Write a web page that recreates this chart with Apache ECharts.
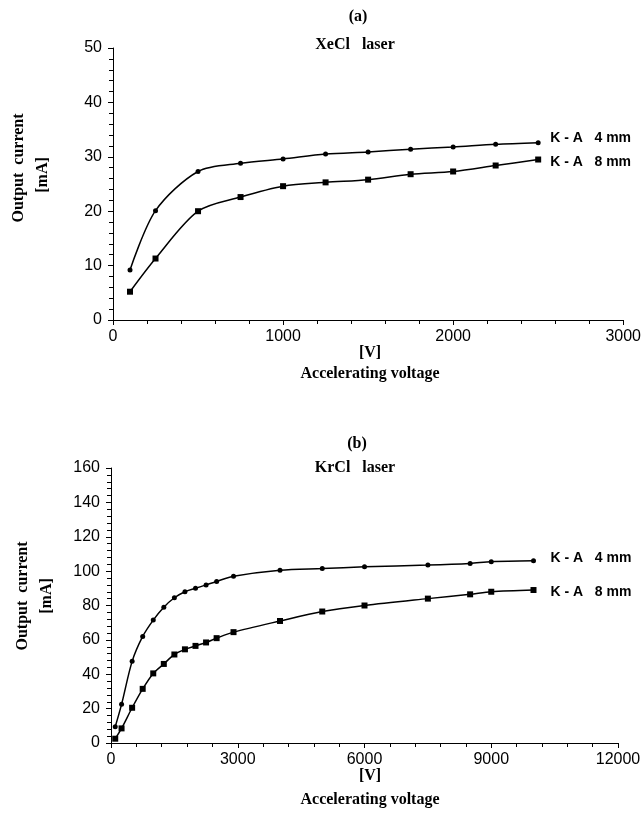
<!DOCTYPE html>
<html>
<head>
<meta charset="utf-8">
<script src="https://cdn.jsdelivr.net/npm/echarts@6/dist/echarts.min.js"></script>
<style>
html,body{margin:0;padding:0;background:#fff;}
#c{width:644px;height:819px;}
</style>
</head>
<body>
<div id="c"></div>
<script>
// ---- Data: (a) XeCl laser ----
var xeclVoltage = [100, 250, 500, 750, 1000, 1250, 1500, 1750, 2000, 2250, 2500];
var xecl4mm = [9.2, 20.1, 27.3, 28.8, 29.6, 30.5, 30.9, 31.4, 31.8, 32.3, 32.6];
var xecl8mm = [5.2, 11.3, 20.0, 22.6, 24.6, 25.3, 25.8, 26.8, 27.3, 28.4, 29.5];

// ---- Data: (b) KrCl laser ----
var krclVoltage = [100, 250, 500, 750, 1000, 1250, 1500, 1750, 2000, 2250, 2500, 2900, 4000, 5000, 6000, 7500, 8500, 9000, 10000];
var krcl4mm = [9.5, 22.5, 47.5, 62, 71.5, 79, 84.5, 88, 90, 92, 94, 97, 100.5, 101.5, 102.5, 103.5, 104.5, 105.5, 106];
var krcl8mm = [2.5, 8.5, 20.5, 31.5, 40.5, 46, 51.5, 54.5, 56.5, 58.5, 61, 64.5, 71, 76.5, 80, 84, 86.5, 88, 89];

// ---- Axis ticks ----
var topXTicks = {min: 0, max: 3000, interval: 1000};
var topYTicks = {min: 0, max: 50, interval: 10};
var botXTicks = {min: 0, max: 12000, interval: 3000};
var botYTicks = {min: 0, max: 160, interval: 20};

var seriesNames = ['K - A   4 mm', 'K - A   8 mm'];

function zip(xs, ys){ return xs.map(function(x,i){ return [x, ys[i]]; }); }

var sansFont = '"Liberation Sans", Arial, sans-serif';
var serifFont = '"Liberation Serif", "Times New Roman", serif';

function plain(v){ return String(v); }

function makeX(idx, t){
  return {
    type: 'value', gridIndex: idx, min: t.min, max: t.max, interval: t.interval,
    axisLine: {show: true, lineStyle: {color: '#000', width: 1}},
    axisTick: {show: true, length: 5, lineStyle: {color: '#000'}},
    minorTick: {show: true, splitNumber: 5, length: 4, lineStyle: {color: '#000'}},
    splitLine: {show: false},
    axisLabel: {color: '#000', fontFamily: sansFont, fontSize: 16, margin: 9, formatter: plain},
  };
}
function makeY(idx, t){
  return {
    type: 'value', gridIndex: idx, min: t.min, max: t.max, interval: t.interval,
    axisLine: {show: true, lineStyle: {color: '#000', width: 1}},
    axisTick: {show: true, length: 5, lineStyle: {color: '#000'}},
    minorTick: {show: true, splitNumber: 5, length: 4, lineStyle: {color: '#000'}},
    splitLine: {show: false},
    axisLabel: {color: '#000', fontFamily: sansFont, fontSize: 16, margin: 11, formatter: plain},
  };
}
function makeSeries(name, idx, data, symbol, size, dist, offY){
  return {
    name: name, type: 'line', xAxisIndex: idx, yAxisIndex: idx,
    data: data, smooth: 0.3, symbol: symbol, symbolSize: size,
    lineStyle: {color: '#000', width: 1.5},
    itemStyle: {color: '#000'},
    endLabel: {show: true, formatter: name, distance: dist, offset: [0, offY],
      color: '#000', fontFamily: sansFont, fontWeight: 'bold', fontSize: 14},
    animation: false, z: 3
  };
}

var chart = echarts.init(document.getElementById('c'), null, {renderer: 'canvas'});
chart.setOption({
  backgroundColor: '#fff',
  animation: false,
  grid: [
    {left: 113, top: 48, width: 513, height: 272},
    {left: 111, top: 468, width: 507, height: 275}
  ],
  xAxis: [makeX(0, topXTicks), makeX(1, botXTicks)],
  yAxis: [makeY(0, topYTicks), makeY(1, botYTicks)],
  series: [
    makeSeries(seriesNames[0], 0, zip(xeclVoltage, xecl4mm), 'circle', 5, 12, -5),
    makeSeries(seriesNames[1], 0, zip(xeclVoltage, xecl8mm), 'rect', 6, 12, 3),
    makeSeries(seriesNames[0], 1, zip(krclVoltage, krcl4mm), 'circle', 5, 17, -3),
    makeSeries(seriesNames[1], 1, zip(krclVoltage, krcl8mm), 'rect', 6, 17, 2)
  ],
  graphic: [
    {type: 'text', x: 358, y: 17, style: {text: '(a)', font: 'bold 16px ' + serifFont, fill: '#000', textAlign: 'center', textVerticalAlign: 'middle'}},
    {type: 'text', x: 355, y: 45, style: {text: 'XeCl   laser', font: 'bold 16px ' + serifFont, fill: '#000', textAlign: 'center', textVerticalAlign: 'middle'}},
    {type: 'text', x: 370, y: 353, style: {text: '[V]', font: 'bold 16px ' + serifFont, fill: '#000', textAlign: 'center', textVerticalAlign: 'middle'}},
    {type: 'text', x: 370, y: 374, style: {text: 'Accelerating voltage', font: 'bold 16px ' + serifFont, fill: '#000', textAlign: 'center', textVerticalAlign: 'middle'}},
    {type: 'text', x: 19, y: 168, rotation: Math.PI/2, style: {text: 'Output  current', font: 'bold 16px ' + serifFont, fill: '#000', textAlign: 'center', textVerticalAlign: 'middle'}},
    {type: 'text', x: 43, y: 175, rotation: Math.PI/2, style: {text: '[mA]', font: 'bold 16px ' + serifFont, fill: '#000', textAlign: 'center', textVerticalAlign: 'middle'}},
    {type: 'text', x: 357, y: 444, style: {text: '(b)', font: 'bold 16px ' + serifFont, fill: '#000', textAlign: 'center', textVerticalAlign: 'middle'}},
    {type: 'text', x: 355, y: 468, style: {text: 'KrCl   laser', font: 'bold 16px ' + serifFont, fill: '#000', textAlign: 'center', textVerticalAlign: 'middle'}},
    {type: 'text', x: 370, y: 776, style: {text: '[V]', font: 'bold 16px ' + serifFont, fill: '#000', textAlign: 'center', textVerticalAlign: 'middle'}},
    {type: 'text', x: 370, y: 800, style: {text: 'Accelerating voltage', font: 'bold 16px ' + serifFont, fill: '#000', textAlign: 'center', textVerticalAlign: 'middle'}},
    {type: 'text', x: 23, y: 596, rotation: Math.PI/2, style: {text: 'Output  current', font: 'bold 16px ' + serifFont, fill: '#000', textAlign: 'center', textVerticalAlign: 'middle'}},
    {type: 'text', x: 47, y: 596, rotation: Math.PI/2, style: {text: '[mA]', font: 'bold 16px ' + serifFont, fill: '#000', textAlign: 'center', textVerticalAlign: 'middle'}}
  ]
});
</script>
</body>
</html>
